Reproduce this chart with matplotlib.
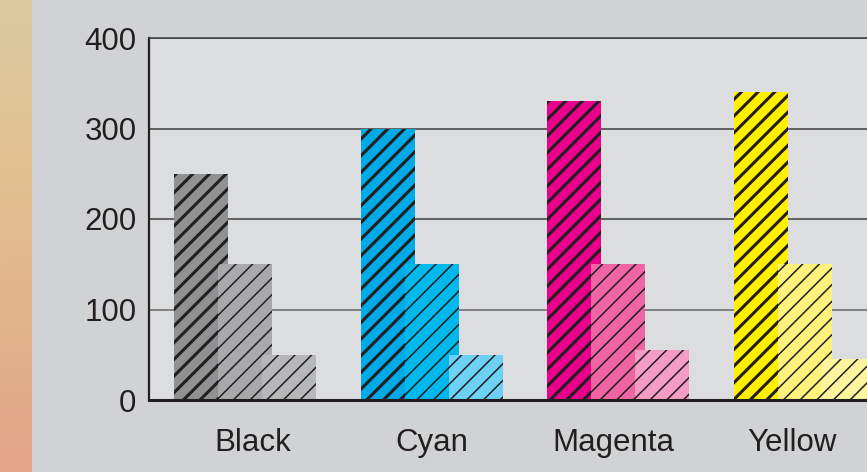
import numpy as np
import matplotlib
matplotlib.use("Agg")
import matplotlib.pyplot as plt
from matplotlib.colors import LinearSegmentedColormap

# %%

categories = ["Black", "Cyan", "Magenta", "Yellow"]
tall = [250, 300, 330, 340]
middle = [150, 150, 150, 150]
short = [50, 50, 55, 45]
yticks = [0, 100, 200, 300, 400]

colors = {
    "Black": ["#909193", "#a8a9ab", "#b6b7b9"],
    "Cyan": ["#00aae7", "#00b8ec", "#6dd0f5"],
    "Magenta": ["#ea008a", "#ef64a3", "#f49cc3"],
    "Yellow": ["#fff000", "#fff27c", "#fff59e"],
}
label_shift = [0.043, 0.0, -0.024, -0.07]

# %%

plt.rcParams["font.family"] = ["Liberation Sans", "DejaVu Sans"]
ink = "#231f20"

fig = plt.figure(figsize=(8.67, 4.72), dpi=100)
fig.patch.set_facecolor("#d1d2d4")

# gradient strip on the left edge
strip = fig.add_axes([0, 0, 32 / 867, 1])
cmap = LinearSegmentedColormap.from_list(
    "strip", [(0, "#dbc99e"), (0.35, "#e2c291"), (1, "#e2a586")]
)
strip.imshow(np.linspace(0, 1, 256).reshape(-1, 1), aspect="auto", cmap=cmap)
strip.axis("off")

ax = fig.add_axes([149 / 867, 72 / 472, (867 - 149) / 867, 362 / 472])
ax.set_facecolor("#dcdddf")

x = np.arange(len(categories))
step, width = 0.236, 0.289
series = [tall, middle, short]
hatch_lw = [2.2, 1.1, 1.1]

for j, vals in enumerate(series):
    bars = ax.bar(
        x + (j - 1) * step,
        vals,
        width=width,
        color=[colors[c][j] for c in categories],
        edgecolor=ink,
        linewidth=0,
        hatch="//",
        zorder=2 + j,
    )
    for b in bars:
        if hasattr(b, "set_hatch_linewidth"):
            b.set_hatch_linewidth(hatch_lw[j])

ax.set_xlim(-0.514, 3.332)
ax.set_ylim(0, 400)
ax.set_yticks(yticks)
ax.set_yticklabels([str(v) for v in yticks])
ax.set_xticks(x + np.array(label_shift))
ax.set_xticklabels(categories)
ax.tick_params(axis="both", length=0, labelsize=22.5, colors=ink)
ax.tick_params(axis="y", pad=9)
ax.tick_params(axis="x", pad=20)

ax.yaxis.grid(True, color="#3f3f3f", linewidth=1.1, zorder=1)
ax.set_axisbelow(True)
grid = ax.yaxis.get_gridlines()
grid[1].set_color("#6a6a6a")

ax.spines["right"].set_visible(False)
ax.spines["top"].set_color("#3f3f3f")
ax.spines["top"].set_linewidth(1.1)
ax.spines["left"].set_color(ink)
ax.spines["left"].set_linewidth(1.6)
ax.spines["bottom"].set_color(ink)
ax.spines["bottom"].set_linewidth(2.2)
ax.spines["bottom"].set_zorder(6)

fig.savefig("out.png", dpi=100, facecolor=fig.get_facecolor())
